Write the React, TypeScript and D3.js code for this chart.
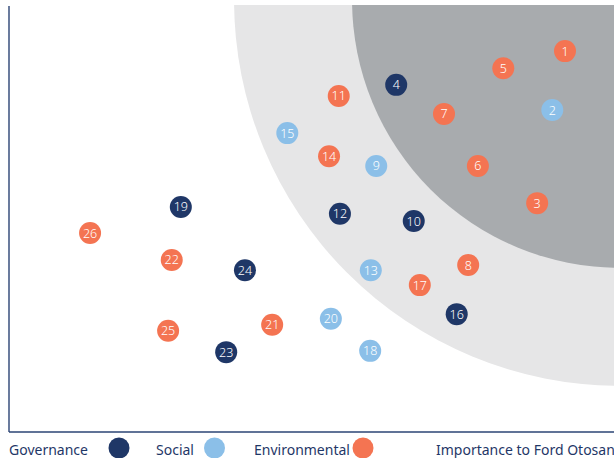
import * as d3 from "d3";

// materiality topics: id, pillar, importance to Ford Otosan (x), importance to stakeholders (y)
const topicIds = [1, 2, 3, 4, 5, 6, 7, 8, 9, 10, 11, 12, 13, 14, 15, 16, 17, 18, 19, 20, 21, 22, 23, 24, 25, 26];
const topicPillar = ["E", "S", "E", "G", "E", "E", "E", "E", "S", "G", "E", "G", "S", "E", "S", "G", "E", "S", "G", "S", "E", "E", "G", "G", "E", "E"];
const fordImportance = [91.9, 89.8, 87.3, 64.0, 81.7, 77.5, 71.9, 75.9, 60.7, 66.9, 54.5, 54.7, 59.8, 52.9, 46.0, 74.0, 67.9, 59.7, 28.4, 53.2, 43.5, 26.9, 35.9, 39.0, 26.3, 13.4];
const stakeholderImportance = [89.2, 75.4, 53.6, 81.3, 85.2, 62.3, 74.5, 39.1, 62.3, 49.4, 78.7, 51.1, 37.9, 64.6, 70.0, 27.6, 34.4, 19.0, 52.7, 26.5, 25.1, 40.3, 18.7, 37.9, 23.7, 46.6];

const legendKeys = ["G", "S", "E"];
const legendLabels = ["Governance", "Social", "Environmental"];
const xAxisTitle = "Importance to Ford Otosan";

const colors: Record<string, string> = { G: "#1f3767", S: "#8bbfe8", E: "#f47452" };

const W = 614;
const H = 458;
const left = 9, right = 614, top = 5, bottom = 432;

export default function App() {
  const x = d3.scaleLinear().domain([0, 100]).range([left, right]);
  const y = d3.scaleLinear().domain([0, 100]).range([bottom, top]);

  const cx = x(101);
  const cy = y(101.2);

  const points = topicIds.map((id, i) => ({
    id,
    pillar: topicPillar[i],
    px: x(fordImportance[i]),
    py: y(stakeholderImportance[i]),
  }));

  const legendX = [9, 156, 254];
  const legendDot = [119, 214.5, 363];
  const font = "'Noto Sans', sans-serif";

  return (
    <svg width={W} height={H} style={{ position: "absolute", left: 0, top: 0 }}>
      <defs>
        <clipPath id="plot">
          <rect x={left} y={top} width={right - left} height={bottom - top} />
        </clipPath>
      </defs>
      <g clipPath="url(#plot)">
        <circle cx={cx} cy={cy} r={386} fill="#e6e6e7" />
        <circle cx={cx} cy={cy} r={268} fill="#a8abae" />
      </g>
      <line x1={left} x2={left} y1={6} y2={bottom} stroke="#2b4474" strokeWidth={1.4} />
      <line x1={left} x2={right} y1={bottom} y2={bottom} stroke="#2b4474" strokeWidth={1.4} />

      {points.map((p) => (
        <g key={p.id} transform={`translate(${p.px},${p.py})`}>
          <circle r={11} fill={colors[p.pillar]} />
          <text
            textAnchor="middle"
            dy="0.36em"
            fill="#fff"
            fontFamily={font}
            fontSize={12.5}
            fontWeight={300}
          >
            {p.id}
          </text>
        </g>
      ))}

      {legendKeys.map((k, i) => (
        <g key={k}>
          <text x={legendX[i]} y={455} fill="#1f3767" fontFamily={font} fontSize={14}>
            {legendLabels[i]}
          </text>
          <circle cx={legendDot[i]} cy={448} r={10.5} fill={colors[k]} />
        </g>
      ))}
      <text x={436} y={455} fill="#1f3767" fontFamily={font} fontSize={14}>
        {xAxisTitle}
      </text>
    </svg>
  );
}
